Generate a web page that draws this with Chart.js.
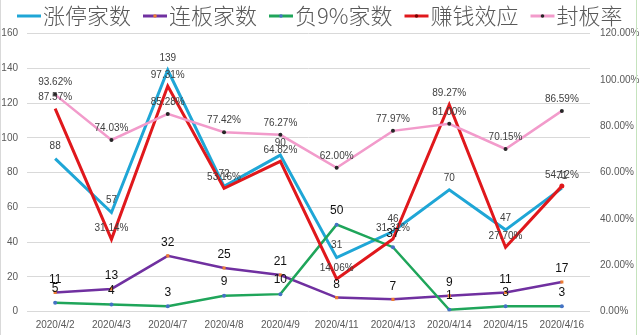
<!DOCTYPE html>
<html>
<head>
<meta charset="utf-8">
<script src="https://cdn.jsdelivr.net/npm/chart.js@4.4.1/dist/chart.umd.min.js"></script>
<style>
  html, body { margin: 0; padding: 0; background: #ffffff; }
  #wrap { width: 640px; height: 335px; position: relative; }
</style>
</head>
<body>
<div id="wrap"><canvas id="c" width="640" height="335"></canvas></div>
<script>
// ---- data ----
const categories = ['2020/4/2','2020/4/3','2020/4/7','2020/4/8','2020/4/9','2020/4/11','2020/4/13','2020/4/14','2020/4/15','2020/4/16'];
const seriesNames = ['涨停家数','连板家数','负9%家数','赚钱效应','封板率'];
const limitUpCount = [88, 57, 139, 72, 90, 31, 46, 70, 47, 71];
const consecutiveCount = [11, 13, 32, 25, 21, 8, 7, 9, 11, 17];
const dropNineCount = [5, 4, 3, 9, 10, 50, 37, 1, 3, 3];
const profitEffectPct = [87.57, 31.14, 97.31, 53.16, 64.82, 14.06, 31.31, 89.27, 27.70, 54.12];
const sealRatePct = [93.62, 74.03, 85.28, 77.42, 76.27, 62.00, 77.97, 81.00, 70.15, 86.59];
const leftAxis = { min: 0, max: 160, step: 20 };
const rightAxis = { min: 0, max: 120, step: 20 };

const FONT = "'Liberation Sans', Arial, sans-serif";
const CJK = "'Noto Sans CJK SC', 'Noto Sans', sans-serif";

const colors = {
  cyan: '#1FA6D6',
  purple: '#7030A0',
  green: '#1FA55A',
  red: '#E0181C',
  pink: '#F29BCB'
};

// data label plugin (text placed above each point using element coordinates)
const labelPlugin = {
  id: 'pointLabels',
  afterDatasetsDraw(chart) {
    const ctx = chart.ctx;
    chart.data.datasets.forEach((ds, i) => {
      const cfg = ds.labelCfg;
      if (!cfg) return;
      const meta = chart.getDatasetMeta(i);
      ctx.save();
      ctx.font = cfg.font;
      ctx.fillStyle = cfg.color;
      ctx.textAlign = 'center';
      ctx.textBaseline = 'middle';
      meta.data.forEach((el, j) => {
        ctx.fillText(cfg.format(ds.data[j]), el.x, el.y - cfg.offset);
      });
      ctx.restore();
    });
  }
};

// legend plugin drawn in top band
const legendPlugin = {
  id: 'topLegend',
  afterDraw(chart) {
    const ctx = chart.ctx;
    ctx.save();
    ctx.font = '300 22px ' + CJK;
    ctx.textBaseline = 'middle';
    let x = 17;
    const y = 16;
    chart.data.datasets.forEach((ds) => {
      ctx.strokeStyle = ds.borderColor;
      ctx.lineWidth = 3;
      ctx.beginPath();
      ctx.moveTo(x, y);
      ctx.lineTo(x + 24, y);
      ctx.stroke();
      if (ds.legendDot) {
        ctx.fillStyle = ds.legendDot;
        ctx.beginPath();
        ctx.arc(x + 12, y, 1.8, 0, Math.PI * 2);
        ctx.fill();
      }
      ctx.fillStyle = '#595959';
      ctx.fillText(ds.label, x + 26, y);
      x += 26 + ctx.measureText(ds.label).width + 12;
    });
    // frame edges
    ctx.strokeStyle = '#d9d9d9';
    ctx.lineWidth = 1;
    ctx.beginPath(); ctx.moveTo(0.5, 0); ctx.lineTo(0.5, 335); ctx.stroke();
    ctx.strokeStyle = '#c5e3bd';
    ctx.beginPath(); ctx.moveTo(636.5, 0); ctx.lineTo(636.5, 335); ctx.stroke();
    ctx.restore();
  }
};

const pctFmt = v => v.toFixed(2) + '%';
const intFmt = v => String(v);

new Chart(document.getElementById('c'), {
  type: 'line',
  data: {
    labels: categories,
    datasets: [
      {
        label: seriesNames[0], data: limitUpCount, yAxisID: 'y',
        borderColor: colors.cyan, backgroundColor: colors.cyan, borderWidth: 3,
        pointRadius: 0, tension: 0, order: 4,
        labelCfg: { font: '10px ' + FONT, color: '#404040', offset: 12, format: intFmt }
      },
      {
        label: seriesNames[1], data: consecutiveCount, yAxisID: 'y',
        borderColor: colors.purple, backgroundColor: '#ED7D31', borderWidth: 2.5,
        pointRadius: 2.2, pointBackgroundColor: '#ED7D31', pointBorderWidth: 0, pointStyle: 'rect',
        tension: 0, order: 3, legendDot: '#ED7D31',
        labelCfg: { font: '12px ' + FONT, color: '#111111', offset: 13, format: intFmt }
      },
      {
        label: seriesNames[2], data: dropNineCount, yAxisID: 'y',
        borderColor: colors.green, backgroundColor: '#4472C4', borderWidth: 2.5,
        pointRadius: 2, pointBackgroundColor: '#4472C4', pointBorderWidth: 0,
        tension: 0, order: 2, legendDot: '#4472C4',
        labelCfg: { font: '12px ' + FONT, color: '#111111', offset: 14, format: intFmt }
      },
      {
        label: seriesNames[3], data: profitEffectPct, yAxisID: 'y1',
        borderColor: colors.red, backgroundColor: colors.red, borderWidth: 3,
        pointRadius: [0,0,0,0,0,0,0,0,0,2.5], pointBackgroundColor: colors.red, pointBorderWidth: 0,
        tension: 0, order: 1, legendDot: '#7a0000',
        labelCfg: { font: '10px ' + FONT, color: '#404040', offset: 11, format: pctFmt }
      },
      {
        label: seriesNames[4], data: sealRatePct, yAxisID: 'y1',
        borderColor: colors.pink, backgroundColor: '#262626', borderWidth: 2.5,
        pointRadius: 2, pointBackgroundColor: '#262626', pointBorderWidth: 0,
        tension: 0, order: 0, legendDot: '#262626',
        labelCfg: { font: '10px ' + FONT, color: '#404040', offset: 12, format: pctFmt }
      }
    ]
  },
  options: {
    responsive: false,
    animation: false,
    devicePixelRatio: 1,
    layout: { padding: { top: 33.5, left: 0, right: 0, bottom: 0 } },
    plugins: {
      legend: { display: false },
      tooltip: { enabled: false },
      title: { display: false }
    },
    scales: {
      x: {
        type: 'category',
        offset: true,
        grid: { display: false, drawTicks: false },
        border: { display: false },
        ticks: { color: '#595959', font: { family: FONT, size: 10 }, padding: 8, maxRotation: 0, autoSkip: false },
        afterFit(s) { s.height = 23.5; }
      },
      y: {
        position: 'left',
        min: leftAxis.min, max: leftAxis.max,
        grid: { color: '#d9d9d9', lineWidth: 1, drawTicks: false },
        border: { display: false },
        ticks: { stepSize: leftAxis.step, color: '#595959', font: { family: FONT, size: 10 }, padding: 9 },
        afterFit(s) { s.width = 27; }
      },
      y1: {
        position: 'right',
        min: rightAxis.min, max: rightAxis.max,
        grid: { display: false, drawTicks: false },
        border: { display: false },
        ticks: { stepSize: rightAxis.step, color: '#595959', font: { family: FONT, size: 10 }, padding: 10,
                 callback: v => v.toFixed(2) + '%' },
        afterFit(s) { s.width = 50; }
      }
    }
  },
  plugins: [labelPlugin, legendPlugin]
});
</script>
</body>
</html>
